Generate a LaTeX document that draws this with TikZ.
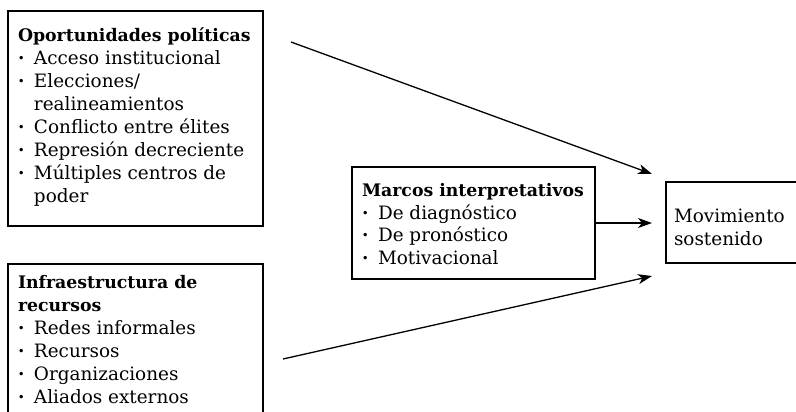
\documentclass[tikz,border=0pt]{standalone}
\usepackage{fontspec}
\setmainfont{DejaVu Serif}
\usetikzlibrary{arrows.meta}
\tikzset{
  boxr/.style={draw=black, line width=1.1pt},
  txt/.style={anchor=base west, inner sep=0pt, outer sep=0pt, font=\fontsize{18.4}{23}\selectfont},
  arr/.style={line width=1.3pt, -{Stealth[length=14pt,width=10pt,inset=4pt]}}
}
\newcommand{\bul}{\makebox[16pt][l]{\textbf{·}}}
\newcommand{\ttl}[1]{{\fontsize{17.3}{23}\selectfont\bfseries #1}}
\begin{document}
\begin{tikzpicture}[x=1pt,y=-1pt]
\useasboundingbox (0,0) rectangle (796,412);
\fill[white] (0,0) rectangle (796,412);
% boxes
\draw[boxr] (8,11) rectangle (263,226);
\node[inner sep=0pt] (op) at (135.5,118.5) {};
\draw[boxr] (8,264) rectangle (263,416);
\node[inner sep=0pt] (ri) at (135.5,340) {};
\draw[boxr] (352,167) rectangle (595,279);
\node[inner sep=0pt, minimum width=243pt, minimum height=112pt] (mi) at (473.5,223) {};
\draw[boxr] (666,182) rectangle (800,263);
\node[inner sep=0pt, minimum width=134pt, minimum height=81pt] (ms) at (733,222.5) {};
% texts
\node[txt] (opt) at (18,41.5) {\begin{tabular}[t]{@{}l@{}l@{}}
\multicolumn{2}{@{}l@{}}{\ttl{Oportunidades políticas}}\\
\bul & Acceso institucional\\
\bul & Elecciones/\\
 & realineamientos\\
\bul & Conflicto entre élites\\
\bul & Represión decreciente\\
\bul & Múltiples centros de\\
 & poder
\end{tabular}};
\node[txt] (rit) at (18,288) {\begin{tabular}[t]{@{}l@{}l@{}}
\multicolumn{2}{@{}l@{}}{\ttl{Infraestructura de}}\\
\multicolumn{2}{@{}l@{}}{\ttl{recursos}}\\
\bul & Redes informales\\
\bul & Recursos\\
\bul & Organizaciones\\
\bul & Aliados externos
\end{tabular}};
\node[txt] (mit) at (362,196) {\begin{tabular}[t]{@{}l@{}l@{}}
\multicolumn{2}{@{}l@{}}{\ttl{Marcos interpretativos}}\\
\bul & De diagnóstico\\
\bul & De pronóstico\\
\bul & Motivacional
\end{tabular}};
\node[txt] (mst) at (674,222) {\begin{tabular}[t]{@{}l@{}}
Movimiento\\
sostenido
\end{tabular}};
% arrows
\coordinate (a1s) at (291,42);
\coordinate (a1e) at (652,174);
\coordinate (a2e) at (652,223);
\coordinate (a3s) at (283,359);
\coordinate (a3e) at (652,276);
\draw[arr] (a1s) -- (a1e);
\draw[arr] (mi.east) -- (a2e);
\draw[arr] (a3s) -- (a3e);
\end{tikzpicture}
\end{document}
